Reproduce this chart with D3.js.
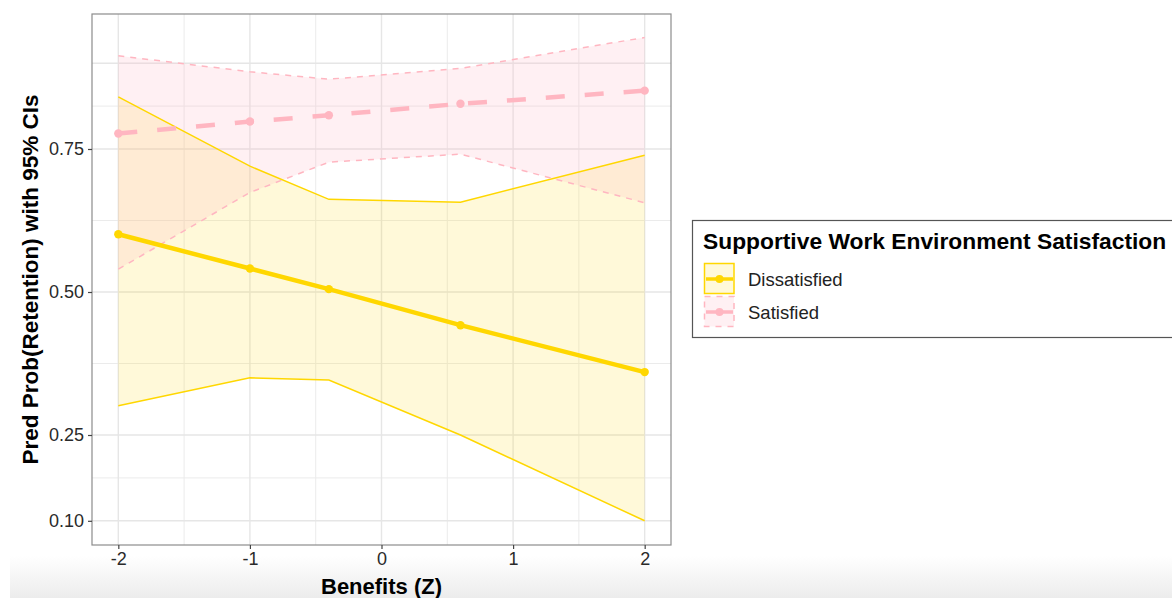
<!DOCTYPE html>
<html>
<head>
<meta charset="utf-8">
<script src="https://cdn.jsdelivr.net/npm/d3@7"></script>
<style>
  html, body { margin: 0; padding: 0; background: #fff; }
  svg { display: block; font-family: "Liberation Sans", Arial, sans-serif; }
</style>
</head>
<body>
<svg id="chart" width="1172" height="598"></svg>
<script>
// Benefits (Z) values at which predictions were computed
const benefitsZ = [-2, -1, -0.4, 0.6, 2];

// Dissatisfied group: predicted probability and 95% CI
const dissatisfiedFit   = [0.601, 0.541, 0.505, 0.442, 0.360];
const dissatisfiedLower = [0.301, 0.350, 0.346, 0.250, 0.100];
const dissatisfiedUpper = [0.841, 0.720, 0.662, 0.657, 0.739];

// Satisfied group: predicted probability and 95% CI
const satisfiedFit   = [0.777, 0.798, 0.809, 0.829, 0.852];
const satisfiedLower = [0.540, 0.674, 0.727, 0.741, 0.656];
const satisfiedUpper = [0.913, 0.885, 0.872, 0.891, 0.945];

// Axis breaks
const xTicks = [-2, -1, 0, 1, 2];
const xMinor = [-1.5, -0.5, 0.5, 1.5];
const yTicks = [0.10, 0.25, 0.50, 0.75];
const yExtraGrid = [0.90];
const yMinor = [0.175, 0.375, 0.625, 0.825];

const groupNames = ["Dissatisfied", "Satisfied"];
const groupColors = { Dissatisfied: "#FFD700", Satisfied: "#FFB6C1" };

const svg = d3.select("#chart");

// Panel bounds
const panel = { left: 92, right: 671, top: 14, bottom: 545 };

const x = d3.scaleLinear().domain([-2.2, 2.2]).range([panel.left, panel.right]);
const y = d3.scaleLinear().domain([0.0577, 0.986]).range([panel.bottom, panel.top]);

// Soft grey fade along the bottom edge
const defs = svg.append("defs");
const grad = defs.append("linearGradient").attr("id", "fade").attr("x1", 0).attr("y1", 0).attr("x2", 0).attr("y2", 1);
grad.append("stop").attr("offset", "0%").attr("stop-color", "#ffffff");
grad.append("stop").attr("offset", "100%").attr("stop-color", "#ececec");
svg.append("rect").attr("x", 10).attr("y", 556).attr("width", 1162).attr("height", 42).attr("fill", "url(#fade)");

// Grid
const grid = svg.append("g");
grid.selectAll(".ymin").data(yMinor).join("line")
  .attr("x1", panel.left).attr("x2", panel.right)
  .attr("y1", d => y(d)).attr("y2", d => y(d))
  .attr("stroke", "#ebebeb").attr("stroke-width", 1);
grid.selectAll(".xmin").data(xMinor).join("line")
  .attr("y1", panel.top).attr("y2", panel.bottom)
  .attr("x1", d => x(d)).attr("x2", d => x(d))
  .attr("stroke", "#ebebeb").attr("stroke-width", 1);
grid.selectAll(".ymaj").data(yTicks.concat(yExtraGrid)).join("line")
  .attr("x1", panel.left).attr("x2", panel.right)
  .attr("y1", d => y(d)).attr("y2", d => y(d))
  .attr("stroke", "#e6e6e6").attr("stroke-width", 1.4);
grid.selectAll(".xmaj").data(xTicks).join("line")
  .attr("y1", panel.top).attr("y2", panel.bottom)
  .attr("x1", d => x(d)).attr("x2", d => x(d))
  .attr("stroke", "#e6e6e6").attr("stroke-width", 1.4);

function rows(fit, lo, hi) {
  return benefitsZ.map((b, i) => ({ b, fit: fit[i], lo: lo[i], hi: hi[i] }));
}
const groups = [
  { name: "Dissatisfied", data: rows(dissatisfiedFit, dissatisfiedLower, dissatisfiedUpper),
    fillOpacity: 0.15, thinDash: null, mainDash: null },
  { name: "Satisfied", data: rows(satisfiedFit, satisfiedLower, satisfiedUpper),
    fillOpacity: 0.2, thinDash: "6,6", mainDash: "19,20" }
];

const area = d3.area().x(d => x(d.b)).y0(d => y(d.lo)).y1(d => y(d.hi));
const lineLo = d3.line().x(d => x(d.b)).y(d => y(d.lo));
const lineHi = d3.line().x(d => x(d.b)).y(d => y(d.hi));
const lineFit = d3.line().x(d => x(d.b)).y(d => y(d.fit));

const plot = svg.append("g");
// Ribbons
groups.forEach(g => {
  plot.append("path").datum(g.data).attr("d", area)
    .attr("fill", groupColors[g.name]).attr("fill-opacity", g.fillOpacity);
});
// CI bounds
groups.forEach(g => {
  [lineLo, lineHi].forEach(gen => {
    plot.append("path").datum(g.data).attr("d", gen)
      .attr("fill", "none").attr("stroke", groupColors[g.name]).attr("stroke-width", 1.5)
      .attr("stroke-dasharray", g.thinDash);
  });
});
// Fitted lines and points
groups.forEach(g => {
  plot.append("path").datum(g.data).attr("d", lineFit)
    .attr("fill", "none").attr("stroke", groupColors[g.name]).attr("stroke-width", 4.5)
    .attr("stroke-dasharray", g.mainDash);
  plot.selectAll(null).data(g.data).join("circle")
    .attr("cx", d => x(d.b)).attr("cy", d => y(d.fit)).attr("r", 4.2)
    .attr("fill", groupColors[g.name]);
});

// Panel border
svg.append("rect").attr("x", panel.left).attr("y", panel.top)
  .attr("width", panel.right - panel.left).attr("height", panel.bottom - panel.top)
  .attr("fill", "none").attr("stroke", "#8c8c8c").attr("stroke-width", 1.2);

// Axes
const xAxis = svg.append("g").attr("transform", `translate(0,${panel.bottom})`)
  .call(d3.axisBottom(x).tickValues(xTicks).tickSize(4).tickPadding(3).tickFormat(d => (d < 0 ? "-" + Math.abs(d) : String(d))));
const yAxis = svg.append("g").attr("transform", `translate(${panel.left},0)`)
  .call(d3.axisLeft(y).tickValues(yTicks).tickSize(4).tickPadding(4).tickFormat(d3.format(".2f")));
[xAxis, yAxis].forEach(a => {
  a.attr("font-size", null).attr("font-family", null);
  a.select(".domain").remove();
  a.selectAll(".tick line").attr("stroke", "#444").attr("stroke-width", 1.2);
  a.selectAll(".tick text").attr("fill", "#2a2a2a").attr("font-size", 18);
});

// Axis titles
svg.append("text").attr("x", (panel.left + panel.right) / 2).attr("y", 594)
  .attr("text-anchor", "middle").attr("font-weight", "bold").attr("font-size", 22)
  .attr("fill", "#000").text("Benefits (Z)");
svg.append("text")
  .attr("transform", `translate(38,${(panel.top + panel.bottom) / 2}) rotate(-90)`)
  .attr("text-anchor", "middle").attr("font-weight", "bold").attr("font-size", 22.5)
  .attr("fill", "#000").text("Pred Prob(Retention) with 95% CIs");

// Legend
const lg = svg.append("g");
lg.append("rect").attr("x", 692.5).attr("y", 220.5).attr("width", 490).attr("height", 117)
  .attr("fill", "#fff").attr("stroke", "#555").attr("stroke-width", 1.2);
lg.append("text").attr("x", 703).attr("y", 249).attr("font-weight", "bold").attr("font-size", 22.8)
  .attr("fill", "#000").text("Supportive Work Environment Satisfaction");
groupNames.forEach((name, i) => {
  const g = groups.find(d => d.name === name);
  const top = 263 + i * 33;
  const key = lg.append("g");
  key.append("rect").attr("x", 704.5).attr("y", top + 0.5).attr("width", 29.5).attr("height", 30)
    .attr("fill", "#fff");
  key.append("rect").attr("x", 704.5).attr("y", top + 0.5).attr("width", 29.5).attr("height", 30)
    .attr("fill", groupColors[name]).attr("fill-opacity", g.fillOpacity)
    .attr("stroke", groupColors[name]).attr("stroke-width", 1.5)
    .attr("stroke-dasharray", g.thinDash);
  key.append("line").attr("x1", 706).attr("x2", 733).attr("y1", top + 16).attr("y2", top + 16)
    .attr("stroke", groupColors[name]).attr("stroke-width", 3.5);
  key.append("circle").attr("cx", 719.5).attr("cy", top + 16).attr("r", 4)
    .attr("fill", groupColors[name]);
  lg.append("text").attr("x", 748).attr("y", top + 22.5).attr("font-size", 18.5)
    .attr("fill", "#222").text(name);
});
</script>
</body>
</html>
